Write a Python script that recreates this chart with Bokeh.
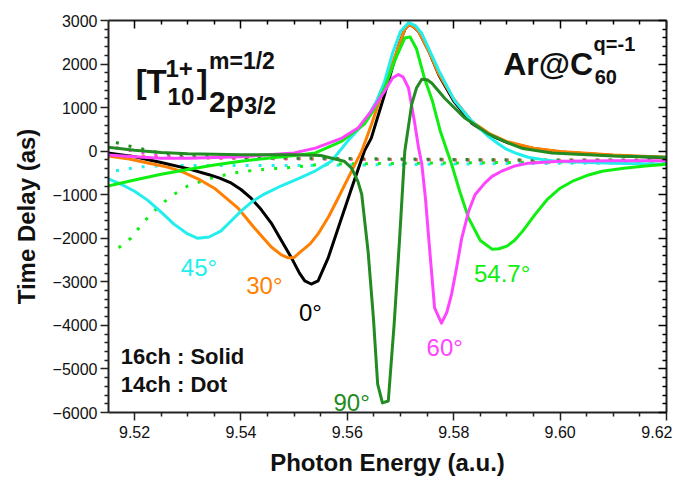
from bokeh.plotting import figure
from bokeh.models import Label, LinearAxis, FixedTicker, CustomJSTickFormatter
from bokeh.embed import file_html
from bokeh.resources import INLINE

# ---------------- data ----------------
X_0 = [9.515, 9.520, 9.525, 9.530, 9.534, 9.536, 9.538, 9.540, 9.5419, 9.5438, 9.5457, 9.5476, 9.5495,
       9.551, 9.552, 9.5532, 9.5545, 9.5564, 9.5583, 9.5608, 9.5632, 9.5645, 9.5670, 9.5696, 9.5708,
       9.5715, 9.5722, 9.5734, 9.5753, 9.5772, 9.5800, 9.5834, 9.5866, 9.5900, 9.5950, 9.6000, 9.6100,
       9.6200]
Y_0 = [-40, -130, -260, -400, -540, -620, -720, -880, -1080, -1340, -1650, -2050, -2450,
       -2800, -2980, -3050, -2980, -2450, -1760, -850, 0, 300, 1300, 2400, 2800,
       2900, 2880, 2750, 2300, 1750, 1150, 640, 380, 200, 60, -20, -100,
       -150]

X_30 = [9.515, 9.5190, 9.5225, 9.5260, 9.5287, 9.5320, 9.5350, 9.5394, 9.5425, 9.5457, 9.5476, 9.5489,
        9.5500, 9.5513, 9.5530, 9.5545, 9.5565, 9.5583, 9.5608, 9.5627, 9.5645, 9.5670, 9.5696, 9.5708,
        9.5716, 9.5722, 9.5734, 9.5753, 9.5772, 9.5800, 9.5834, 9.5866, 9.5900, 9.5950, 9.6000, 9.6100,
        9.6200]
Y_30 = [-110, -180, -270, -360, -460, -640, -850, -1300, -1760, -2200, -2380, -2450,
        -2440, -2300, -2130, -1900, -1500, -1070, -460, 0, 600, 1500, 2400, 2800,
        2900, 2880, 2750, 2300, 1770, 1200, 680, 410, 220, 70, -10, -90,
        -140]

X_45 = [9.515, 9.5175, 9.5200, 9.5225, 9.5250, 9.5274, 9.5300, 9.5319, 9.5340, 9.5362, 9.5380, 9.5400,
        9.5420, 9.5443, 9.5475, 9.5508, 9.5540, 9.5570, 9.5600, 9.5632, 9.5655, 9.5670, 9.5685, 9.5700,
        9.5715, 9.5728, 9.5740, 9.5755, 9.5772, 9.5802, 9.5834, 9.5866, 9.5885, 9.5900, 9.5920, 9.5940,
        9.5970, 9.6000, 9.6100, 9.6200]
Y_45 = [-630, -760, -920, -1130, -1400, -1675, -1900, -2000, -1970, -1835, -1620, -1376,
        -1170, -990, -800, -630, -450, -230, 220, 650, 1150, 1600, 2250, 2750,
        2950, 2880, 2700, 2300, 1850, 1150, 690, 330, 160, 40, -60, -140,
        -200, -235, -280, -300]

X_547 = [9.515, 9.520, 9.525, 9.530, 9.535, 9.540, 9.545, 9.550, 9.554, 9.5590, 9.5632, 9.5650, 9.5670,
         9.5690, 9.5708, 9.5718, 9.5730, 9.5745, 9.5760, 9.5775, 9.5796, 9.5812, 9.5828, 9.5850, 9.5872,
         9.5885, 9.5900, 9.5915, 9.5930, 9.5953, 9.5975, 9.6000, 9.6025, 9.6050, 9.6079, 9.6120, 9.6160,
         9.6200]
Y_547 = [-800, -660, -530, -420, -320, -230, -160, -100, -40, 230, 620, 950, 1450,
         2100, 2600, 2620, 2350, 1675, 1150, 450, -300, -950, -1537, -2050, -2250,
         -2240, -2180, -2040, -1830, -1450, -1120, -850, -680, -560, -460, -390, -340,
         -300]

X_60 = [9.515, 9.520, 9.525, 9.530, 9.540, 9.550, 9.554, 9.559, 9.562, 9.5645, 9.5670, 9.5685, 9.5696,
        9.5705, 9.5715, 9.5726, 9.5734, 9.5740, 9.5747, 9.5753, 9.5764, 9.5777, 9.5787, 9.5796, 9.5805,
        9.5815, 9.5828, 9.5840, 9.5858, 9.5872, 9.5890, 9.5915, 9.5940, 9.6000, 9.6100, 9.6200]
Y_60 = [-90, -130, -160, -160, -130, -40, 70, 300, 530, 920, 1375, 1680, 1760,
        1700, 1450, 690, 70, -300, -1100, -2000, -3600, -3950, -3700, -3280, -2700,
        -2000, -1380, -1000, -740, -580, -460, -340, -275, -230, -220, -220]

X_90 = [9.515, 9.520, 9.525, 9.530, 9.540, 9.550, 9.555, 9.5594, 9.5608, 9.5620, 9.5627, 9.5639, 9.5649,
        9.5657, 9.5666, 9.5677, 9.5688, 9.5698, 9.5708, 9.5721, 9.5730, 9.5740, 9.5750, 9.5759, 9.5783,
        9.5821, 9.5866, 9.5900, 9.5930, 9.5985, 9.6100, 9.6200]
Y_90 = [90, 20, -30, -60, -80, -80, -100, -230, -390, -700, -990, -2300, -3830,
        -5350, -5780, -5735, -3970, -2060, 0, 1075, 1450, 1650, 1640, 1560, 1215,
        760, 390, 200, 60, -40, -110, -140]

# 14-channel (dotted) results
XD = [9.5165, 9.5190, 9.5215, 9.5240, 9.5270, 9.5300, 9.5400, 9.5500, 9.5600, 9.5700, 9.5800, 9.5900,
      9.6000, 9.6100, 9.6200]
YD_90 = [200, 120, 50, -20, -70, -110, -150, -160, -170, -180, -190, -200, -200, -200, -200]
YD_60 = [80, 20, -40, -90, -120, -140, -165, -175, -185, -195, -205, -210, -215, -215, -215]
YD_30 = [-100, -110, -120, -130, -140, -150, -165, -175, -185, -195, -200, -205, -210, -210, -210]
YD_45 = [-450, -400, -360, -340, -330, -330, -330, -330, -320, -310, -295, -285, -280, -280, -280]
XD_547 = [9.5170, 9.5193, 9.5211, 9.5230, 9.5253, 9.5274, 9.5300, 9.5343, 9.5376, 9.5400, 9.5450, 9.5500,
          9.5550, 9.5600, 9.5700, 9.5800, 9.5900, 9.6000, 9.6100, 9.6200]
YD_547 = [-2220, -2000, -1720, -1450, -1190, -990, -800, -620, -530, -470, -410, -370,
          -300, -290, -280, -270, -260, -250, -240, -230]

X_TICKS = [9.52, 9.54, 9.56, 9.58, 9.60, 9.62]
X_TICK_LABELS = ["9.52", "9.54", "9.56", "9.58", "9.60", "9.62"]
X_MINOR = [9.515, 9.525, 9.53, 9.535, 9.545, 9.55, 9.555, 9.565, 9.57, 9.575, 9.585, 9.59, 9.595,
           9.605, 9.61, 9.615]
Y_TICKS = [-6000, -5000, -4000, -3000, -2000, -1000, 0, 1000, 2000, 3000]
Y_MINOR = [v * 200 for v in range(-30, 16) if v % 5 != 0]

C_BLACK = "#000000"
C_ORANGE = "#FF7F00"
C_CYAN = "#22EEEE"
C_LIME = "#11EE11"
C_MAGENTA = "#FF44FF"
C_DKGREEN = "#228B22"

FONT = "Liberation Sans"

p = figure(frame_width=558, frame_height=392, x_range=(9.5151, 9.62), y_range=(-6000, 3000),
           output_backend="svg", toolbar_location=None,
           min_border_left=108, min_border_right=6, min_border_top=20, min_border_bottom=60)
p.xgrid.visible = False
p.ygrid.visible = False
p.outline_line_color = None
p.background_fill_color = "white"

xt = FixedTicker(ticks=X_TICKS, minor_ticks=X_MINOR)
yt = FixedTicker(ticks=Y_TICKS, minor_ticks=Y_MINOR)

for ax in (p.xaxis[0], p.yaxis[0]):
    ax.axis_line_width = 2
    ax.axis_line_color = "#222222"
    ax.major_tick_line_width = 1.5
    ax.minor_tick_line_width = 1.5
    ax.major_tick_line_color = "#222222"
    ax.minor_tick_line_color = "#222222"
    ax.major_tick_out = 8
    ax.major_tick_in = 0
    ax.minor_tick_out = 4
    ax.minor_tick_in = 0
    ax.major_label_text_font = FONT
    ax.major_label_text_font_size = "16px"
    ax.major_label_text_color = "#111111"
    ax.axis_label_text_font = FONT
    ax.axis_label_text_font_style = "bold"
    ax.axis_label_text_font_size = "24px"
    ax.axis_label_text_color = "#111111"

p.xaxis[0].ticker = xt
p.yaxis[0].ticker = yt
p.xaxis[0].major_label_overrides = {t: s for t, s in zip(X_TICKS, X_TICK_LABELS)}
p.xaxis[0].major_label_standoff = 5
p.yaxis[0].major_label_standoff = 3
p.xaxis[0].axis_label = "Photon Energy (a.u.)"
p.yaxis[0].axis_label = "Time Delay (as)"
p.xaxis[0].axis_label_standoff = 8
p.yaxis[0].axis_label_standoff = 10

blank = CustomJSTickFormatter(code="return '';")
top = LinearAxis(ticker=FixedTicker(ticks=X_TICKS, minor_ticks=X_MINOR), formatter=blank,
                 major_label_standoff=0,
                 axis_line_width=2, axis_line_color="#222222",
                 major_tick_in=8, major_tick_out=0, minor_tick_in=4, minor_tick_out=0,
                 major_tick_line_width=1.5, minor_tick_line_width=1.5)
right = LinearAxis(ticker=FixedTicker(ticks=Y_TICKS, minor_ticks=Y_MINOR),
                   formatter=CustomJSTickFormatter(code="return '';"),
                   major_label_standoff=0,
                   axis_line_width=2, axis_line_color="#222222",
                   major_tick_in=8, major_tick_out=0, minor_tick_in=4, minor_tick_out=0,
                   major_tick_line_width=1.5, minor_tick_line_width=1.5)
p.add_layout(top, "above")
p.add_layout(right, "right")

# dotted 14ch curves
DOT = "3 10"
p.line(XD, YD_30, line_color=C_ORANGE, line_width=3, line_dash=DOT)
p.line(XD, YD_45, line_color=C_CYAN, line_width=3, line_dash=DOT)
p.line(XD_547, YD_547, line_color=C_LIME, line_width=3, line_dash=DOT)
p.line(XD, YD_60, line_color=C_MAGENTA, line_width=3, line_dash=DOT)
p.line(XD, YD_90, line_color=C_DKGREEN, line_width=3, line_dash=DOT)

# solid 16ch curves
W = 3
p.line(X_0, Y_0, line_color=C_BLACK, line_width=W, line_join="round")
p.line(X_30, Y_30, line_color=C_ORANGE, line_width=W, line_join="round")
p.line(X_45, Y_45, line_color=C_CYAN, line_width=W, line_join="round")
p.line(X_547, Y_547, line_color=C_LIME, line_width=W, line_join="round")
p.line(X_60, Y_60, line_color=C_MAGENTA, line_width=W, line_join="round")
p.line(X_90, Y_90, line_color=C_DKGREEN, line_width=W, line_join="round")


def lab(x, y, text, size, color="#111111", bold=True):
    p.add_layout(Label(x=x, y=y, text=text, text_font=FONT, text_font_size=f"{size}px",
                       text_font_style="bold" if bold else "normal", text_color=color,
                       text_baseline="alphabetic", text_align="left"))


# [T^{1+}_{10}]^{m=1/2}_{2p_{3/2}}
lab(9.5202, 1600, "[T", 33)
lab(9.5258, 1905, "1+", 24)
lab(9.5262, 1250, "10", 24)
lab(9.5317, 1600, "]", 33)
lab(9.5340, 2070, "m=1/2", 23)
lab(9.5340, 1150, "2p", 30)
lab(9.5406, 1040, "3/2", 23)

# Ar@C^{q=-1}_{60}
lab(9.5893, 2000, "Ar@C", 32)
lab(9.6063, 2460, "q=-1", 20)
lab(9.6065, 1700, "60", 20)

# angle labels
lab(9.5287, -2660, "45°", 24, C_CYAN, bold=False)
lab(9.5410, -3090, "30°", 24, C_ORANGE, bold=False)
lab(9.5509, -3710, "0°", 24, C_BLACK, bold=False)
lab(9.5574, -5780, "90°", 24, C_DKGREEN, bold=False)
lab(9.5749, -4510, "60°", 24, C_MAGENTA, bold=False)
lab(9.5838, -2820, "54.7°", 24, C_LIME, bold=False)

lab(9.5174, -4705, "16ch : Solid", 22)
lab(9.5174, -5350, "14ch : Dot", 22)

open("out.html", "w").write(file_html(p, INLINE))
